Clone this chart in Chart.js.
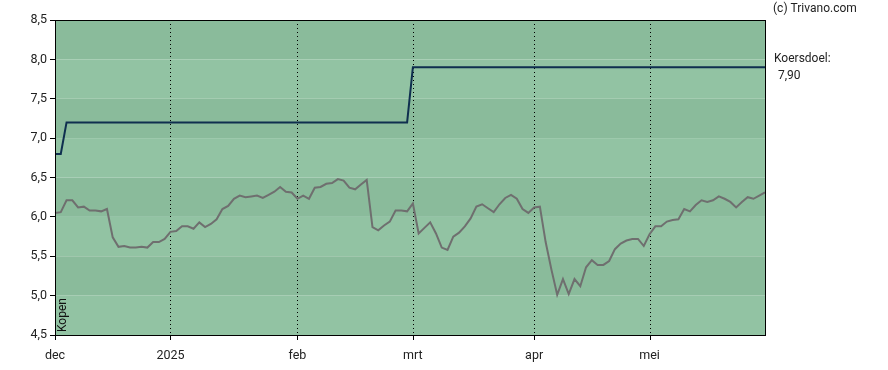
<!DOCTYPE html>
<html>
<head>
<meta charset="utf-8">
<script src="https://cdn.jsdelivr.net/npm/chart.js@4"></script>
<style>
html,body{margin:0;padding:0;background:#fff;}
#wrap{position:relative;width:888px;height:370px;}
</style>
</head>
<body>
<div id="wrap"><canvas id="c" width="888" height="370"></canvas></div>
<script>
const dates = [
"2024-12-02","2024-12-03","2024-12-04","2024-12-05","2024-12-06","2024-12-09","2024-12-10","2024-12-11","2024-12-12","2024-12-13",
"2024-12-16","2024-12-17","2024-12-18","2024-12-19","2024-12-20","2024-12-23","2024-12-24","2024-12-27","2024-12-30","2024-12-31",
"2025-01-02","2025-01-03","2025-01-06","2025-01-07","2025-01-08","2025-01-09","2025-01-10","2025-01-13","2025-01-14","2025-01-15",
"2025-01-16","2025-01-17","2025-01-20","2025-01-21","2025-01-22","2025-01-23","2025-01-24","2025-01-27","2025-01-28","2025-01-29",
"2025-01-30","2025-01-31","2025-02-03","2025-02-04","2025-02-05","2025-02-06","2025-02-07","2025-02-10","2025-02-11","2025-02-12",
"2025-02-13","2025-02-14","2025-02-17","2025-02-18","2025-02-19","2025-02-20","2025-02-21","2025-02-24","2025-02-25","2025-02-26",
"2025-02-27","2025-02-28","2025-03-03","2025-03-04","2025-03-05","2025-03-06","2025-03-07","2025-03-10","2025-03-11","2025-03-12",
"2025-03-13","2025-03-14","2025-03-17","2025-03-18","2025-03-19","2025-03-20","2025-03-21","2025-03-24","2025-03-25","2025-03-26",
"2025-03-27","2025-03-28","2025-03-31","2025-04-01","2025-04-02","2025-04-03","2025-04-04","2025-04-07","2025-04-08","2025-04-09",
"2025-04-10","2025-04-11","2025-04-14","2025-04-15","2025-04-16","2025-04-17","2025-04-22","2025-04-23","2025-04-24","2025-04-25",
"2025-04-28","2025-04-29","2025-04-30","2025-05-02","2025-05-05","2025-05-06","2025-05-07","2025-05-08","2025-05-09","2025-05-12",
"2025-05-13","2025-05-14","2025-05-15","2025-05-16","2025-05-19","2025-05-20","2025-05-21","2025-05-22","2025-05-23","2025-05-26",
"2025-05-27","2025-05-28","2025-05-29","2025-05-30"
];
const koers = [
6.05,6.06,6.21,6.21,6.12,6.13,6.08,6.08,6.07,6.10,
5.74,5.62,5.63,5.61,5.61,5.62,5.61,5.68,5.68,5.72,
5.81,5.82,5.88,5.88,5.85,5.93,5.87,5.91,5.97,6.10,
6.14,6.23,6.27,6.25,6.26,6.27,6.24,6.28,6.32,6.38,
6.32,6.31,6.23,6.27,6.23,6.37,6.38,6.42,6.43,6.48,
6.46,6.37,6.35,6.41,6.47,5.87,5.83,5.89,5.94,6.08,
6.08,6.07,6.17,5.79,5.86,5.93,5.79,5.61,5.58,5.75,
5.80,5.88,5.98,6.13,6.16,6.11,6.06,6.16,6.24,6.28,
6.23,6.10,6.05,6.12,6.13,5.68,5.33,5.01,5.21,5.02,
5.21,5.12,5.36,5.45,5.39,5.39,5.44,5.59,5.66,5.70,
5.72,5.72,5.63,5.78,5.88,5.88,5.94,5.96,5.97,6.10,
6.07,6.15,6.21,6.19,6.21,6.26,6.23,6.19,6.12,6.19,
6.25,6.23,6.27,6.31
];
const koersdoelDates  = ["2024-12-02","2024-12-03","2024-12-04","2025-02-28","2025-03-03","2025-05-30"];
const koersdoelValues = [6.8, 6.8, 7.2, 7.2, 7.9, 7.9];
const tickDates  = ["2024-12-02","2025-01-02","2025-02-03","2025-03-03","2025-04-01","2025-05-02"];
const tickLabels = ["dec","2025","feb","mrt","apr","mei"];
const yMin = 4.5, yMax = 8.5, yStep = 0.5;
const koersdoelText = "Koersdoel:";
const koersdoelLabel = "7,90";
const adviesText = "Kopen";
const creditText = "(c) Trivano.com";

const FONT = "Roboto, 'Liberation Sans', Arial, sans-serif";

const bandsPlugin = {
  id: 'bands',
  beforeDatasetsDraw(chart) {
    const {ctx, chartArea, scales} = chart;
    const y = scales.y;
    ctx.save();
    let k = 0;
    for (let v = yMax; v > yMin + 1e-9; v -= yStep) {
      const top = y.getPixelForValue(v);
      const bot = y.getPixelForValue(v - yStep);
      ctx.fillStyle = (k % 2 === 0) ? '#8abb9b' : '#92c3a3';
      ctx.fillRect(chartArea.left, top, chartArea.right - chartArea.left, bot - top);
      k++;
    }
    ctx.restore();
  }
};
const gridPlugin = {
  id: 'vgrid',
  beforeDatasetsDraw(chart) {
    const {ctx, chartArea, scales} = chart;
    const x = scales.x;
    ctx.save();
    ctx.strokeStyle = '#000';
    ctx.lineWidth = 1;
    ctx.setLineDash([1, 3]);
    tickDates.forEach((d, i) => {
      if (i === 0) return;
      const px = Math.round(x.getPixelForValue(dates.indexOf(d))) + 0.5;
      ctx.beginPath();
      ctx.moveTo(px, chartArea.top);
      ctx.lineTo(px, chartArea.bottom);
      ctx.stroke();
    });
    ctx.restore();
  }
};
const framePlugin = {
  id: 'frame',
  afterDraw(chart) {
    const {ctx, chartArea} = chart;
    ctx.save();
    ctx.strokeStyle = '#000';
    ctx.lineWidth = 1;
    ctx.strokeRect(Math.round(chartArea.left) + 0.5, Math.round(chartArea.top) + 0.5,
      Math.round(chartArea.right - chartArea.left), Math.round(chartArea.bottom - chartArea.top));
    const x = chart.scales.x;
    tickDates.forEach((d) => {
      const px = Math.round(x.getPixelForValue(dates.indexOf(d))) + 0.5;
      ctx.beginPath();
      ctx.moveTo(px, chartArea.bottom);
      ctx.lineTo(px, chartArea.bottom + 5);
      ctx.stroke();
    });
    ctx.fillStyle = '#111';
    ctx.font = '12px ' + FONT;
    ctx.translate(chartArea.left + 8, chartArea.bottom - 3);
    ctx.rotate(-Math.PI / 2);
    ctx.textAlign = 'left';
    ctx.textBaseline = 'middle';
    ctx.fillText(adviesText, 0, 0);
    ctx.setTransform(1, 0, 0, 1, 0, 0);
    const y = chart.scales.y;
    ctx.textAlign = 'left';
    ctx.textBaseline = 'middle';
    ctx.fillStyle = '#222';
    ctx.font = '12px ' + FONT;
    ctx.fillText(creditText, chartArea.right + 8, 9);
    const ky = y.getPixelForValue(koersdoelValues[koersdoelValues.length - 1]);
    ctx.fillText(koersdoelText, chartArea.right + 9, ky - 8);
    ctx.fillText(koersdoelLabel, chartArea.right + 13, ky + 9);
    ctx.restore();
  }
};

new Chart(document.getElementById('c'), {
  type: 'line',
  data: {
    labels: dates,
    datasets: [
      {
        label: 'Koersdoel',
        data: koersdoelDates.map((d, i) => ({x: d, y: koersdoelValues[i]})),
        borderColor: '#0f2f4f',
        borderWidth: 2,
        pointRadius: 0,
        tension: 0,
        order: 1
      },
      {
        label: 'Koers',
        data: koers,
        borderColor: '#6f6f6f',
        borderWidth: 2,
        pointRadius: 0,
        tension: 0,
        order: 2
      }
    ]
  },
  options: {
    responsive: false,
    animation: false,
    layout: {padding: {left: 0, right: 123, top: 20, bottom: 0}},
    plugins: {legend: {display: false}, tooltip: {enabled: false}},
    scales: {
      x: {
        type: 'category',
        offset: false,
        afterFit(s) { s.height = 35; },
        grid: {display: false},
        border: {display: false},
        ticks: {
          autoSkip: false,
          maxRotation: 0,
          padding: 5,
          color: '#222',
          font: {family: FONT, size: 12.5},
          callback(v, i) {
            const k = tickDates.indexOf(dates[i]);
            return k >= 0 ? tickLabels[k] : null;
          }
        }
      },
      y: {
        min: yMin, max: yMax,
        afterFit(s) { s.width = 55; },
        grid: {display: true, drawOnChartArea: false, drawTicks: true, tickLength: 5, color: '#000'},
        border: {display: false},
        ticks: {
          stepSize: yStep,
          padding: 3,
          color: '#222',
          font: {family: FONT, size: 12.5},
          callback(v) { return v.toFixed(1).replace('.', ','); }
        }
      }
    }
  },
  plugins: [bandsPlugin, gridPlugin, framePlugin]
});
</script>
</body>
</html>
